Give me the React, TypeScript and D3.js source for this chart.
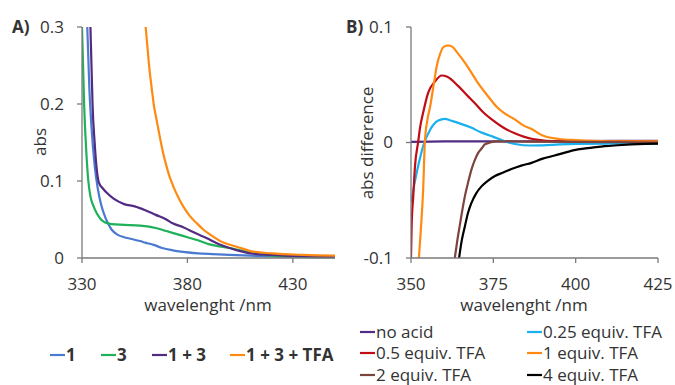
import React from 'react';
import * as d3 from 'd3';

// panel A: absorbance spectra (wavelength nm, abs)
const wlTicksA = [330, 380, 430];
const absTicks = [0, 0.1, 0.2, 0.3];
const absTickLabels = ['0', '0.1', '0.2', '0.3'];

const spec1: [number, number][] = [[332.5, 0.3], [333.5, 0.22], [334.5, 0.17], [336, 0.12], [337.5, 0.09], [339, 0.07], [341, 0.053], [342.3, 0.045], [344, 0.037], [347, 0.03], [350, 0.027], [353, 0.025], [357.5, 0.022], [360, 0.02], [364, 0.017], [368, 0.013], [373, 0.01], [378, 0.008], [385, 0.006], [392, 0.005], [400, 0.004], [420, 0.002], [450, 0.001]];
const spec3: [number, number][] = [[330, 0.3], [330.5, 0.25], [331, 0.2], [332, 0.14], [333, 0.1], [334, 0.08], [335.5, 0.067], [337, 0.058], [339, 0.05], [341, 0.046], [344, 0.044], [350, 0.043], [357.5, 0.042], [365, 0.039], [370, 0.035], [375, 0.031], [380, 0.027], [385, 0.023], [390, 0.018], [395, 0.015], [400, 0.013], [405, 0.01], [410, 0.007], [420, 0.003], [435, 0.0015], [450, 0.001]];
const spec13: [number, number][] = [[334, 0.3], [334.5, 0.25], [335, 0.2], [336, 0.15], [337, 0.115], [338, 0.098], [340, 0.09], [342, 0.084], [345, 0.077], [350, 0.07], [355, 0.067], [360, 0.062], [365, 0.056], [370, 0.05], [373, 0.045], [378, 0.04], [384, 0.032], [389, 0.026], [395, 0.018], [400, 0.013], [405, 0.009], [410, 0.006], [420, 0.004], [435, 0.002], [450, 0.0015]];
const spec13tfa: [number, number][] = [[360.2, 0.3], [361, 0.275], [362, 0.245], [363, 0.222], [364, 0.2], [365.4, 0.179], [367, 0.156], [368.5, 0.136], [370, 0.12], [372, 0.102], [373.3, 0.093], [376, 0.077], [378, 0.067], [381, 0.055], [384.5, 0.045], [387.5, 0.037], [391, 0.03], [397, 0.02], [403, 0.015], [410, 0.009], [420, 0.006], [435, 0.004], [450, 0.003]];

const seriesA = [
  { name: '1', color: '#4a7bd0', data: spec1 },
  { name: '3', color: '#1fb05a', data: spec3 },
  { name: '1 + 3', color: '#512c82', data: spec13 },
  { name: '1 + 3 + TFA', color: '#ff8a12', data: spec13tfa },
];

// panel B: difference spectra
const wlTicksB = [350, 375, 400, 425];
const diffTicks = [-0.1, 0, 0.1];
const diffTickLabels = ['-0.1', '0', '0.1'];

const noAcid: [number, number][] = [[350, 0.0005], [360, 0.001], [375, 0.001], [400, 0.0012], [425, 0.0015]];
const tfa025: [number, number][] = [[350, -0.052], [350.7, -0.041], [352.2, -0.02], [353.7, -0.003], [355.8, 0.011], [357, 0.016], [358.3, 0.019], [360.3, 0.0205], [362, 0.019], [364.3, 0.017], [368.4, 0.0127], [371, 0.009], [374.5, 0.0055], [378.5, 0.001], [382, -0.0015], [386, -0.0026], [390, -0.0025], [395, -0.0017], [400, -0.0012], [410, -0.001], [425, -0.001]];
const tfa05: [number, number][] = [[350, -0.1], [350.2, -0.072], [350.7, -0.046], [351.2, -0.021], [352.2, 0.001], [352.7, 0.012], [353.7, 0.026], [355.2, 0.043], [357.3, 0.053], [359.3, 0.058], [361, 0.057], [364.3, 0.049], [367, 0.041], [369.4, 0.034], [372, 0.026], [374.5, 0.02], [378, 0.013], [381.5, 0.008], [387, 0.003], [395, 0.001], [410, 0.001], [425, 0.001]];
const tfa1: [number, number][] = [[352.4, -0.1], [353, -0.075], [353.7, -0.04], [354.2, 0], [355, 0.02], [355.8, 0.031], [357, 0.052], [357.8, 0.066], [359, 0.078], [360, 0.083], [361.3, 0.084], [362.5, 0.083], [364, 0.078], [366.4, 0.069], [368, 0.062], [370, 0.053], [373.4, 0.04], [376, 0.031], [378, 0.026], [381.5, 0.02], [384, 0.015], [387, 0.011], [390, 0.006], [395, 0.003], [400, 0.002], [410, 0.001], [425, 0.001]];
const tfa2: [number, number][] = [[363.3, -0.1], [364, -0.086], [364.8, -0.072], [365.5, -0.06], [366.4, -0.046], [367.3, -0.035], [368.4, -0.023], [369.4, -0.015], [370.4, -0.009], [371.5, -0.005], [372.4, -0.0017], [374, 0], [376, 0.001], [385, 0.0008], [400, 0.0005], [425, 0]];
const tfa4: [number, number][] = [[364.6, -0.1], [365.4, -0.085], [366.4, -0.072], [367.3, -0.061], [368.4, -0.052], [369.8, -0.044], [371.4, -0.038], [373.4, -0.033], [375.5, -0.029], [378, -0.026], [380.5, -0.023], [383.5, -0.02], [386.6, -0.0176], [390, -0.014], [393.6, -0.0113], [397, -0.0085], [400.7, -0.006], [405, -0.0045], [408.8, -0.0032], [412.8, -0.0024], [416.9, -0.0017], [421, -0.0012], [425, -0.0009]];

const seriesB = [
  { name: 'no acid', color: '#512c82', data: noAcid },
  { name: '0.25 equiv. TFA', color: '#19b0ee', data: tfa025 },
  { name: '0.5 equiv. TFA', color: '#c00d14', data: tfa05 },
  { name: '1 equiv. TFA', color: '#ff8a12', data: tfa1 },
  { name: '2 equiv. TFA', color: '#7d443e', data: tfa2 },
  { name: '4 equiv. TFA', color: '#000000', data: tfa4 },
];

const FONT = '"Open Sans", sans-serif';
const TEXT = '#333';
const AXIS = '#7a7a7a';

export default function App() {
  // panel A scales
  const xA = d3.scaleLinear().domain([330, 450]).range([82, 335]);
  const yA = d3.scaleLinear().domain([0, 0.3]).range([258, 27]);
  // panel B scales
  const xB = d3.scaleLinear().domain([350, 425]).range([411, 658]);
  const yB = d3.scaleLinear().domain([-0.1, 0.1]).range([258, 27]);

  const lineA = d3.line<[number, number]>().x(d => xA(d[0])).y(d => yA(d[1])).curve(d3.curveMonotoneX);
  const lineB = d3.line<[number, number]>().x(d => xB(d[0])).y(d => yB(d[1])).curve(d3.curveMonotoneX);

  return (
    <svg width={675} height={385} style={{ position: 'absolute', left: 0, top: 0, background: '#fff' }} fontFamily={FONT}>
      <defs>
        <clipPath id="clipA"><rect x={82} y={26} width={254} height={233} /></clipPath>
        <clipPath id="clipB"><rect x={411} y={26} width={248} height={233} /></clipPath>
      </defs>

      {/* panel A */}
      <text x={12} y={33} fontSize={17} fontWeight="bold" fill={TEXT}>A)</text>
      <g clipPath="url(#clipA)">
        {seriesA.map(s => (
          <path key={s.name} d={lineA(s.data) || ''} fill="none" stroke={s.color} strokeWidth={2.2} />
        ))}
      </g>
      <line x1={xA(330)} x2={xA(330)} y1={yA(0.3)} y2={yA(0)} stroke={AXIS} strokeWidth={1.3} />
      <line x1={xA(330)} x2={xA(450)} y1={yA(0)} y2={yA(0)} stroke={AXIS} strokeWidth={1.3} />
      {absTicks.map((t, i) => (
        <g key={'ya' + t}>
          <line x1={xA(330) - 5} x2={xA(330)} y1={yA(t)} y2={yA(t)} stroke={AXIS} strokeWidth={1.3} />
          <text x={64} y={yA(t)} dy="0.35em" textAnchor="end" fontSize={17} fill={TEXT}>{absTickLabels[i]}</text>
        </g>
      ))}
      {wlTicksA.map(t => (
        <g key={'xa' + t}>
          <line x1={xA(t)} x2={xA(t)} y1={yA(0)} y2={yA(0) + 5} stroke={AXIS} strokeWidth={1.3} />
          <text x={xA(t)} y={290} textAnchor="middle" fontSize={17} fill={TEXT}>{t}</text>
        </g>
      ))}
      <text x={208} y={311} textAnchor="middle" fontSize={17} fill={TEXT}>wavelenght /nm</text>
      <text transform="translate(46,142) rotate(-90)" textAnchor="middle" fontSize={17} fill={TEXT}>abs</text>

      {/* legend A */}
      {seriesA.map((s, i) => {
        const lx = [50, 101, 152, 230][i];
        return (
          <g key={'la' + s.name}>
            <line x1={lx} x2={lx + 15} y1={355} y2={355} stroke={s.color} strokeWidth={2.2} />
            <text x={lx + 16} y={361} fontSize={17} fontWeight="bold" fill={TEXT}>{s.name}</text>
          </g>
        );
      })}

      {/* panel B */}
      <text x={346} y={33} fontSize={17} fontWeight="bold" fill={TEXT}>B)</text>
      <g clipPath="url(#clipB)">
        {seriesB.map(s => (
          <path key={s.name} d={lineB(s.data) || ''} fill="none" stroke={s.color} strokeWidth={2.2} />
        ))}
      </g>
      <line x1={xB(350)} x2={xB(350)} y1={yB(0.1)} y2={yB(-0.1)} stroke={AXIS} strokeWidth={1.3} />
      <line x1={xB(350)} x2={xB(425)} y1={yB(-0.1)} y2={yB(-0.1)} stroke={AXIS} strokeWidth={1.3} />
      {diffTicks.map((t, i) => (
        <g key={'yb' + t}>
          <line x1={xB(350) - 5} x2={xB(350)} y1={yB(t)} y2={yB(t)} stroke={AXIS} strokeWidth={1.3} />
          <text x={393} y={yB(t)} dy="0.35em" textAnchor="end" fontSize={17} fill={TEXT}>{diffTickLabels[i]}</text>
        </g>
      ))}
      {wlTicksB.map(t => (
        <g key={'xb' + t}>
          <line x1={xB(t)} x2={xB(t)} y1={yB(-0.1)} y2={yB(-0.1) + 5} stroke={AXIS} strokeWidth={1.3} />
          <text x={xB(t)} y={290} textAnchor="middle" fontSize={17} fill={TEXT}>{t}</text>
        </g>
      ))}
      <text x={524} y={311} textAnchor="middle" fontSize={17} fill={TEXT}>wavelenght /nm</text>
      <text transform="translate(373,143) rotate(-90)" textAnchor="middle" fontSize={17} fill={TEXT}>abs difference</text>

      {/* legend B */}
      {seriesB.map((s, i) => {
        const lx = i % 2 === 0 ? 360 : 527;
        const ly = [332, 353, 375][Math.floor(i / 2)];
        return (
          <g key={'lb' + s.name}>
            <line x1={lx} x2={lx + 15} y1={ly} y2={ly} stroke={s.color} strokeWidth={2.2} />
            <text x={lx + 16} y={ly + 6} fontSize={17} fill={TEXT}>{s.name}</text>
          </g>
        );
      })}
    </svg>
  );
}
